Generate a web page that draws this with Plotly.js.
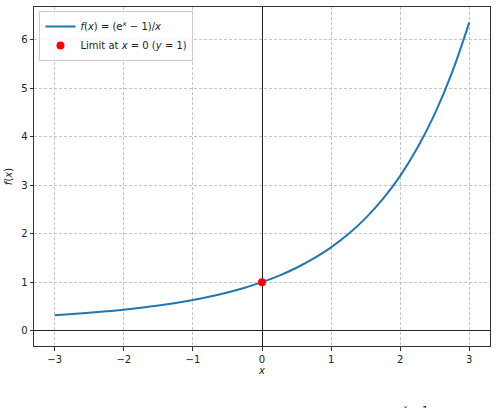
<!DOCTYPE html>
<html><head><meta charset="utf-8">
<script src="https://cdn.plot.ly/plotly-3.0.1.min.js"></script>
<style>body{margin:0;background:#fff}#c{width:497px;height:408px}</style>
</head><body><div id="c"></div>
<script>
const xVals = [-3,-2.75,-2.5,-2.25,-2,-1.75,-1.5,-1.25,-1,-0.75,-0.5,-0.25,0,0.25,0.5,0.75,1,1.25,1.5,1.75,2,2.25,2.5,2.75,3];
const yVals = [0.3167,0.3404,0.3672,0.3976,0.4323,0.4721,0.5179,0.5708,0.6321,0.7035,0.7869,0.8848,1.0,1.1361,1.2974,1.4893,1.7183,1.9923,2.3211,2.7169,3.1945,3.7723,4.4730,5.3246,6.3619];
const limitX = [0];
const limitY = [1];
const xTicks = [-3,-2,-1,0,1,2,3];
const yTicks = [0,1,2,3,4,5,6];

const traces = [
  {x:xVals, y:yVals, type:'scatter', mode:'lines', line:{color:'#1f77b4', width:2, shape:'spline'},
   name:'<i>f</i>(<i>x</i>) = (e<sup><i>x</i></sup> − 1)/<i>x</i>'},
  {x:limitX, y:limitY, type:'scatter', mode:'markers', marker:{color:'red', size:8},
   name:'Limit at <i>x</i> = 0 (<i>y</i> = 1)'}
];
const ax = {showline:true, mirror:true, linecolor:'#333', linewidth:1, ticks:'outside', ticklen:3.5, tickcolor:'#333',
  showgrid:true, gridcolor:'#c4c4c4', griddash:'3px,2px', gridwidth:0.8,
  zeroline:true, zerolinecolor:'#222', zerolinewidth:1,
  tickfont:{family:'DejaVu Sans', size:10, color:'#222'}};
const layout = {
  width:497, height:408, margin:{l:34, r:7, t:7, b:62},
  paper_bgcolor:'#fff', plot_bgcolor:'#fff',
  font:{family:'DejaVu Sans', size:10, color:'#222'},
  xaxis:Object.assign({}, ax, {range:[-3.3,3.3], tickvals:xTicks, ticktext:xTicks.map(v=>v<0?'−'+Math.abs(v):String(v)),
    title:{text:'<i>x</i>', font:{family:'DejaVu Sans', size:10}, standoff:2}}),
  yaxis:Object.assign({}, ax, {range:[-0.318,6.68], tickvals:yTicks, ticktext:yTicks.map(String),
    title:{text:'<i>f</i>(<i>x</i>)', font:{family:'DejaVu Sans', size:10}, standoff:6}}),
  showlegend:true,
  legend:{x:0.012, y:0.988, xanchor:'left', yanchor:'top', bgcolor:'rgba(255,255,255,0.85)', bordercolor:'#ccc', borderwidth:1,
    font:{family:'DejaVu Sans', size:10}, itemwidth:30, tracegroupgap:0},
  annotations:[{xref:'paper', yref:'paper', x:(412-34)/456, y:(346-410)/339, xanchor:'center', yanchor:'middle',
    text:'e<sup><i>x</i></sup> − 1', showarrow:false, font:{family:'DejaVu Sans', size:10, color:'#222'}}]
};
Plotly.newPlot('c', traces, layout, {displayModeBar:false});
</script></body></html>
